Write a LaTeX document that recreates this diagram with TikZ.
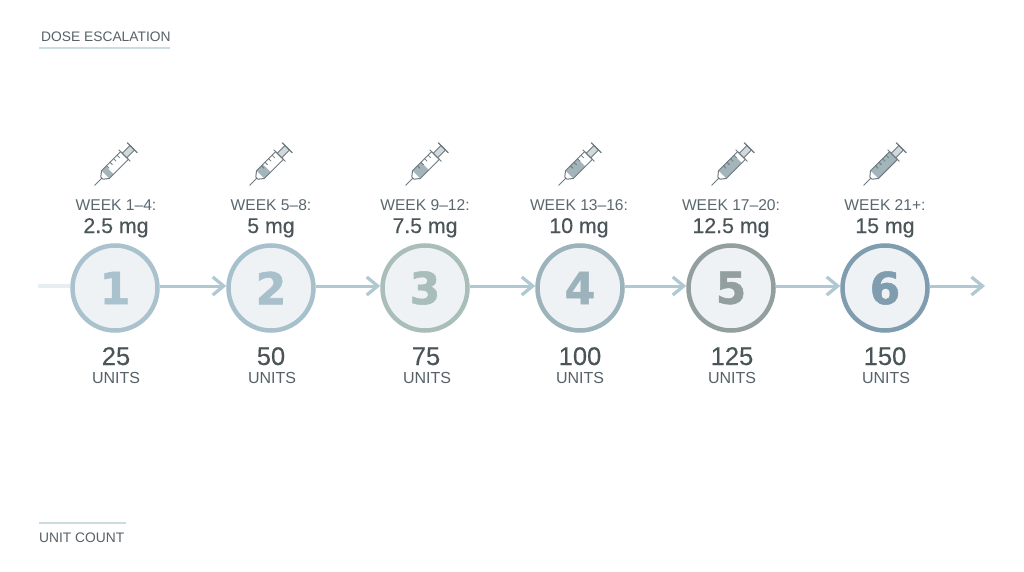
\documentclass[tikz,border=0pt]{standalone}
\usepackage{fontspec}
\setmainfont{Liberation Sans}
\newfontfamily\digitfont{DejaVu Sans Bold}[FakeBold=1.2]
\newfontfamily\medfont{Liberation Sans}[FakeBold=0.35]
\usetikzlibrary{arrows.meta}
\definecolor{cA}{HTML}{A9C2CD}
\definecolor{cB}{HTML}{A8C0CB}
\definecolor{cC}{HTML}{A9BDB9}
\definecolor{cD}{HTML}{9DB3BC}
\definecolor{cE}{HTML}{939F9E}
\definecolor{cF}{HTML}{7F9DAF}
\definecolor{disc}{HTML}{EEF2F5}
\definecolor{flow}{HTML}{B0C8D1}
\definecolor{lead}{HTML}{E6EEF1}
\definecolor{rulec}{HTML}{CBDBE1}
\definecolor{tweek}{HTML}{5A676E}
\definecolor{tdose}{HTML}{4A5558}
\definecolor{tcap}{HTML}{566268}
\definecolor{syr}{HTML}{6D7A80}
\definecolor{syrfill}{HTML}{A3B4BA}
\tikzset{
  x=1pt,y=-1pt,
  disk/.style={circle,draw=#1,fill=disc,line width=4.5pt,minimum size=85pt,inner sep=0pt,
    text=#1,font=\digitfont\fontsize{44}{44}\selectfont},
  weektxt/.style={anchor=base,text=tweek,inner sep=0pt,font=\fontsize{15.6}{16}\selectfont},
  dosetxt/.style={anchor=base,text=tdose,inner sep=0pt,font=\medfont\fontsize{21.3}{22}\selectfont},
  counttxt/.style={anchor=base,text=tdose,inner sep=0pt,font=\medfont\fontsize{25.5}{26}\selectfont},
  unittxt/.style={anchor=base,text=tcap,inner sep=0pt,font=\fontsize{16}{16}\selectfont},
  captxt/.style={anchor=base west,text=tcap,inner sep=0pt,font=\fontsize{13.8}{15}\selectfont},
  flowline/.style={draw=flow,line width=3pt,-{Straight Barb[length=11pt,width=18pt,line width=3.2pt]}},
  leadline/.style={draw=lead,line width=3.5pt},
  caprule/.style={draw=rulec,line width=1.5pt},
  syrline/.style={draw=syr,line width=1pt,line cap=round,line join=round},
  pics/syringe/.style={code={
    \begin{scope}[rotate=45,x=1pt,y=1pt]
      \fill[syrfill] (-15,-5.5) rectangle (#1,5.5);
      \draw[syrline] (-30,0) -- (-20,0);
      \draw[syrline] (-20,-1.5) -- (-15,-5.5) -- (12,-5.5) -- (12,5.5) -- (-15,5.5) -- (-20,1.5) -- cycle;
      \draw[syrline,fill=syrfill!50] (12,-3.2) rectangle (23,3.2);
      \draw[syrline] (12,-8) -- (12,8);
      \draw[syrline,line width=1.2pt] (23,-7) -- (23,7);
      \foreach \t in {-8,-3,2,7} \draw[syrline,line width=.8pt] (\t,5.5) -- (\t,2);
    \end{scope}
  }}
}
\begin{document}
\begin{tikzpicture}
\useasboundingbox (0,0) rectangle (1024,572);
\fill[white] (0,0) rectangle (1024,572);

\node[captxt] (title) at (41,41.5) {DOSE ESCALATION};
\coordinate (titleA) at (39,48);
\coordinate (titleB) at (170,48);
\draw[caprule] (titleA) -- (titleB);
\node[captxt] (foot) at (39,542) {UNIT COUNT};
\coordinate (footA) at (39,523);
\coordinate (footB) at (126,523);
\draw[caprule] (footA) -- (footB);

\coordinate (start) at (38,286);
\coordinate (finish) at (985,286);

\node[disk=cA] (c1) at (115,288) {1};
\node[disk=cB] (c2) at (271,288) {2};
\node[disk=cC] (c3) at (425,288) {3};
\node[disk=cD] (c4) at (580,288) {4};
\node[disk=cE] (c5) at (731,288) {5};
\node[disk=cF] (c6) at (885,288) {6};

\draw[leadline] (start) -- ([yshift=2pt]c1.west);
\draw[flowline] ([yshift=2pt]c1.east) -- ([yshift=2pt]c2.west);
\draw[flowline] ([yshift=2pt]c2.east) -- ([yshift=2pt]c3.west);
\draw[flowline] ([yshift=2pt]c3.east) -- ([yshift=2pt]c4.west);
\draw[flowline] ([yshift=2pt]c4.east) -- ([yshift=2pt]c5.west);
\draw[flowline] ([yshift=2pt]c5.east) -- ([yshift=2pt]c6.west);
\draw[flowline] ([yshift=2pt]c6.east) -- (finish);

\pic at (116,164) {syringe=-9};
\pic at (271,164) {syringe=-6};
\pic at (427,164) {syringe=-3};
\pic at (580,164) {syringe=2};
\pic at (733,164) {syringe=7};
\pic at (885,164) {syringe=12};

\node[weektxt] (w1) at (116,210) {WEEK 1–4:};
\node[weektxt] (w2) at (271,210) {WEEK 5–8:};
\node[weektxt] (w3) at (425,210) {WEEK 9–12:};
\node[weektxt] (w4) at (579,210) {WEEK 13–16:};
\node[weektxt] (w5) at (731,210) {WEEK 17–20:};
\node[weektxt] (w6) at (885,210) {WEEK 21+:};

\node[dosetxt] (d1) at (116,233) {2.5 mg};
\node[dosetxt] (d2) at (271,233) {5 mg};
\node[dosetxt] (d3) at (425,233) {7.5 mg};
\node[dosetxt] (d4) at (579,233) {10 mg};
\node[dosetxt] (d5) at (731,233) {12.5 mg};
\node[dosetxt] (d6) at (885,233) {15 mg};

\node[counttxt] (n1) at (116,365) {25};
\node[counttxt] (n2) at (271,365) {50};
\node[counttxt] (n3) at (426,365) {75};
\node[counttxt] (n4) at (580,365) {100};
\node[counttxt] (n5) at (732,365) {125};
\node[counttxt] (n6) at (885,365) {150};

\node[unittxt] (u1) at (116,383) {UNITS};
\node[unittxt] (u2) at (272,383) {UNITS};
\node[unittxt] (u3) at (427,383) {UNITS};
\node[unittxt] (u4) at (580,383) {UNITS};
\node[unittxt] (u5) at (732,383) {UNITS};
\node[unittxt] (u6) at (886,383) {UNITS};
\end{tikzpicture}
\end{document}
